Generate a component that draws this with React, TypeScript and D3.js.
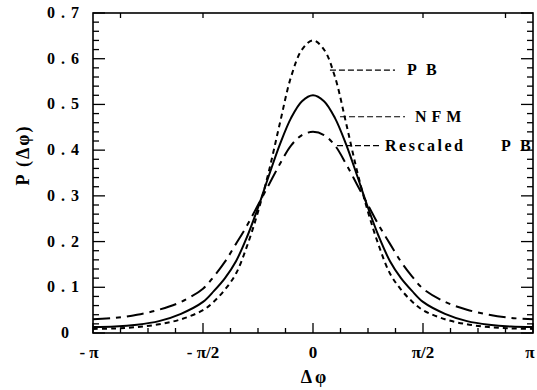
import React from "react";
import * as d3 from "d3";

// x positions in units of π
const xPi = [-1, -0.9, -0.8, -0.7, -0.6, -0.5, -0.45, -0.4, -0.35, -0.3, -0.25, -0.2, -0.15, -0.1, -0.05, 0,
  0.05, 0.1, 0.15, 0.2, 0.25, 0.3, 0.35, 0.4, 0.45, 0.5, 0.6, 0.7, 0.8, 0.9, 1];

const pbValues = [0.009, 0.010, 0.013, 0.019, 0.030, 0.050, 0.069, 0.095, 0.130, 0.190, 0.265, 0.355, 0.460, 0.560, 0.620, 0.640,
  0.620, 0.560, 0.460, 0.355, 0.265, 0.190, 0.130, 0.095, 0.069, 0.050, 0.030, 0.019, 0.013, 0.010, 0.009];

const nfmValues = [0.013, 0.014, 0.018, 0.026, 0.042, 0.068, 0.092, 0.120, 0.157, 0.210, 0.274, 0.345, 0.413, 0.470, 0.507, 0.520,
  0.507, 0.470, 0.413, 0.345, 0.274, 0.210, 0.157, 0.120, 0.092, 0.068, 0.042, 0.026, 0.018, 0.014, 0.013];

const rescaledValues = [0.030, 0.033, 0.040, 0.051, 0.068, 0.097, 0.124, 0.156, 0.195, 0.235, 0.280, 0.325, 0.370, 0.410, 0.433, 0.440,
  0.433, 0.410, 0.370, 0.325, 0.280, 0.235, 0.195, 0.156, 0.124, 0.097, 0.068, 0.051, 0.040, 0.033, 0.030];

const xTickPi = [-1, -0.5, 0, 0.5, 1];
const xTickLabels = ["- π", "- π/2", "0", "π/2", "π"];
const yTickValues = [0, 0.1, 0.2, 0.3, 0.4, 0.5, 0.6, 0.7];
const yTickLabels = ["0", "0.1", "0.2", "0.3", "0.4", "0.5", "0.6", "0.7"];

const seriesNames = ["P B", "NFM", "Rescaled", "P B"];

const FONT = "'Liberation Serif', 'Times New Roman', serif";

export default function App() {
  const W = 537, H = 390;
  const left = 93, right = 533, top = 13, bottom = 333;
  const x = d3.scaleLinear().domain([-Math.PI, Math.PI]).range([left, right]);
  const y = d3.scaleLinear().domain([0, 0.7]).range([bottom, top]);

  const line = d3.line<[number, number]>()
    .x((d) => x(d[0] * Math.PI))
    .y((d) => y(d[1]))
    .curve(d3.curveCatmullRom.alpha(0.5));

  const mk = (vals: number[]) => line(xPi.map((v, i) => [v, vals[i]] as [number, number])) || "";

  const xMinor = d3.range(-8, 9).map((k) => (k * Math.PI) / 8);
  const yMinor = d3.range(0, 36).map((k) => k * 0.02);

  const sw = 1.3;
  return (
    <svg width={W} height={H} style={{ position: "absolute", left: 0, top: 0, background: "#fff" }}>
      <rect x={left} y={top} width={right - left} height={bottom - top} fill="none" stroke="#000" strokeWidth={1.6} />
      {yMinor.map((v, i) => {
        const major = i % 5 === 0;
        const len = major ? 12 : 6;
        return (
          <g key={"yt" + i}>
            <line x1={left} x2={left + len} y1={y(v)} y2={y(v)} stroke="#000" strokeWidth={sw} />
            <line x1={right} x2={right - len} y1={y(v)} y2={y(v)} stroke="#000" strokeWidth={sw} />
          </g>
        );
      })}
      {xMinor.map((v, i) => {
        const k = i - 8;
        const major = k % 4 === 0;
        const len = major ? 10 : 5;
        return (
          <g key={"xt" + i}>
            <line x1={x(v)} x2={x(v)} y1={bottom} y2={bottom - len} stroke="#000" strokeWidth={sw} />
            {(k === 0 || Math.abs(k) === 4 || Math.abs(k) === 7) && (
              <line x1={x(v)} x2={x(v)} y1={top} y2={top + 5} stroke="#000" strokeWidth={sw} />
            )}
          </g>
        );
      })}
      {yTickValues.map((v, i) => (
        <text key={"yl" + i} x={i === 0 ? 75 : 85} y={y(v) + 5} textAnchor="end" fontFamily={FONT} fontWeight="bold" fontSize={16}
          style={{ letterSpacing: "6px" }}>
          {yTickLabels[i]}
        </text>
      ))}
      {xTickPi.map((v, i) => (
        <text key={"xl" + i} x={x(v * Math.PI) + (i === 0 ? -4 : i === 4 ? -3 : 0)} y={358} textAnchor="middle"
          fontFamily={FONT} fontWeight="bold" fontSize={17}>
          {xTickLabels[i]}
        </text>
      ))}
      <text x={(left + right) / 2 + 2} y={383} textAnchor="middle" fontFamily={FONT} fontWeight="bold" fontSize={18}
        style={{ letterSpacing: "3px" }}>Δφ</text>
      <text transform={`translate(29,155) rotate(-90)`} textAnchor="middle" fontFamily={FONT}
        fontWeight="bold" fontSize={18} style={{ letterSpacing: "2px" }}>P (Δφ)</text>

      <path d={mk(pbValues)} fill="none" stroke="#000" strokeWidth={2} strokeDasharray="5,4" />
      <path d={mk(nfmValues)} fill="none" stroke="#000" strokeWidth={2} />
      <path d={mk(rescaledValues)} fill="none" stroke="#000" strokeWidth={2} strokeDasharray="17,6,5,6" />

      <line x1={x(0.077 * Math.PI)} x2={395} y1={y(0.575)} y2={y(0.575)} stroke="#000" strokeWidth={1.2} strokeDasharray="6,3" />
      <text x={407} y={y(0.575) + 5} fontFamily={FONT} fontWeight="bold" fontSize={16} style={{ letterSpacing: "3px" }}>{seriesNames[0]}</text>
      <line x1={x(0.123 * Math.PI)} x2={405} y1={y(0.473)} y2={y(0.473)} stroke="#000" strokeWidth={1.2} strokeDasharray="6,3" />
      <text x={415} y={y(0.473) + 5} fontFamily={FONT} fontWeight="bold" fontSize={16} style={{ letterSpacing: "5px" }}>{seriesNames[1]}</text>
      <line x1={x(0.1 * Math.PI) + 2} x2={380} y1={y(0.41)} y2={y(0.41)} stroke="#000" strokeWidth={1.2} strokeDasharray="6,3" />
      <text x={385} y={y(0.41) + 5} fontFamily={FONT} fontWeight="bold" fontSize={16} style={{ letterSpacing: "2.5px" }}>{seriesNames[2]}</text>
      <text x={501} y={y(0.41) + 5} fontFamily={FONT} fontWeight="bold" fontSize={16} style={{ letterSpacing: "3px" }}>{seriesNames[3]}</text>
    </svg>
  );
}
